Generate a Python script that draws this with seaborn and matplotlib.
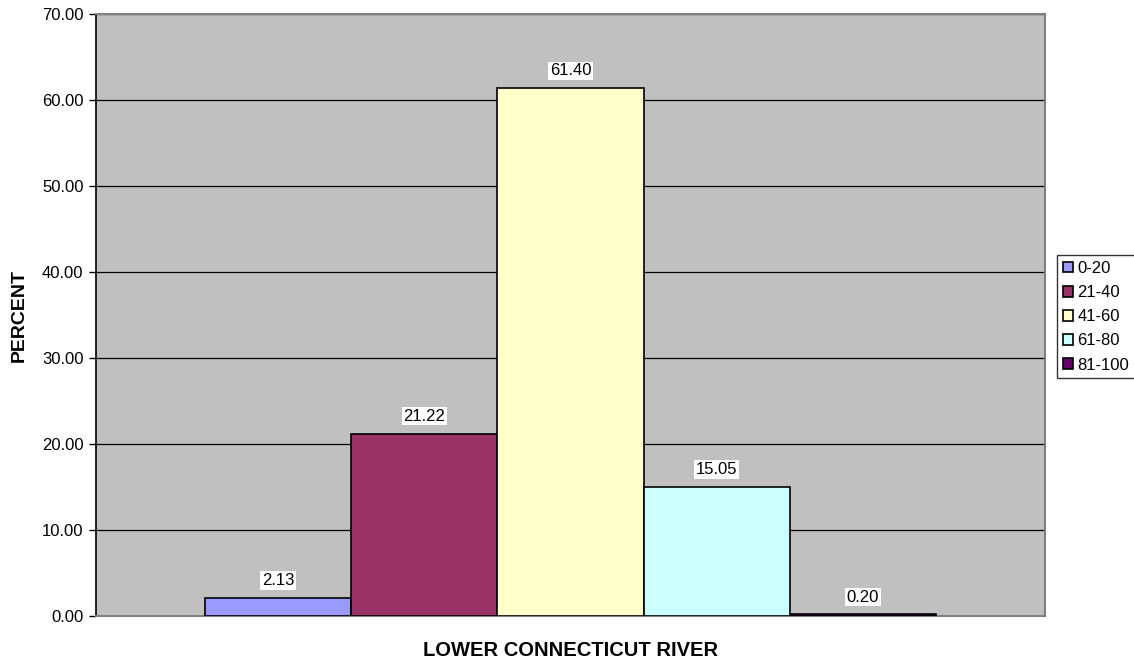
import matplotlib
matplotlib.use("Agg")
import matplotlib.pyplot as plt
import pandas as pd
import seaborn as sns

# data
river = ["LOWER CONNECTICUT RIVER"]
ranges = ["0-20", "21-40", "41-60", "61-80", "81-100"]
percent = [2.13, 21.22, 61.40, 15.05, 0.20]
colors = ["#9999FF", "#993366", "#FFFFCC", "#CCFFFF", "#660066"]

df = pd.DataFrame({"river": river * len(ranges), "range": ranges, "percent": percent})

sns.set_style("white")
plt.rcParams["font.family"] = ["Liberation Sans", "DejaVu Sans"]
plt.rcParams["text.color"] = "black"
plt.rcParams["axes.labelcolor"] = "black"
plt.rcParams["ytick.color"] = "black"
plt.rcParams["xtick.color"] = "black"

fig = plt.figure(figsize=(11.34, 6.63), dpi=100)
ax = fig.add_axes([96 / 1134, 47 / 663, 949 / 1134, 602 / 663])
ax.set_facecolor("#C0C0C0")

sns.barplot(data=df, x="river", y="percent", hue="range", hue_order=ranges,
            palette=colors, width=0.77, edgecolor="black", linewidth=1.2,
            saturation=1, ax=ax, errorbar=None, zorder=3)

ax.set_ylim(0, 70)
ax.set_xlim(-0.5, 0.5)
ax.set_yticks(range(0, 71, 10))
ax.set_yticklabels([f"{v:.2f}" for v in range(0, 71, 10)], fontsize=12)
ax.yaxis.grid(True, color="black", linewidth=0.9, zorder=0)
ax.set_axisbelow(True)
ax.tick_params(axis="y", length=5, width=1, color="black", left=True, pad=4)
ax.tick_params(axis="x", length=0, labelbottom=False)

for s in ["top", "right", "bottom"]:
    ax.spines[s].set_color("#808080")
    ax.spines[s].set_linewidth(1.5)
ax.spines["left"].set_color("black")
ax.spines["left"].set_linewidth(1.2)

for cont in ax.containers:
    ax.bar_label(cont, fmt="%.2f", padding=7, fontsize=12,
                 bbox=dict(facecolor="white", edgecolor="none", pad=1.2))

ax.set_xlabel("LOWER CONNECTICUT RIVER", fontsize=14.5, fontweight="bold", labelpad=18)
ax.set_ylabel("PERCENT", fontsize=14, fontweight="bold", labelpad=10)

leg = ax.legend(loc="center left", bbox_to_anchor=(1.013, 0.497), frameon=True,
                fancybox=False, edgecolor="black", fontsize=12, handlelength=0.6,
                handleheight=0.6, handletextpad=0.25, labelspacing=0.55,
                borderpad=0.35, borderaxespad=0)
leg.get_frame().set_linewidth(1)

fig.savefig("out.png", dpi=100)
